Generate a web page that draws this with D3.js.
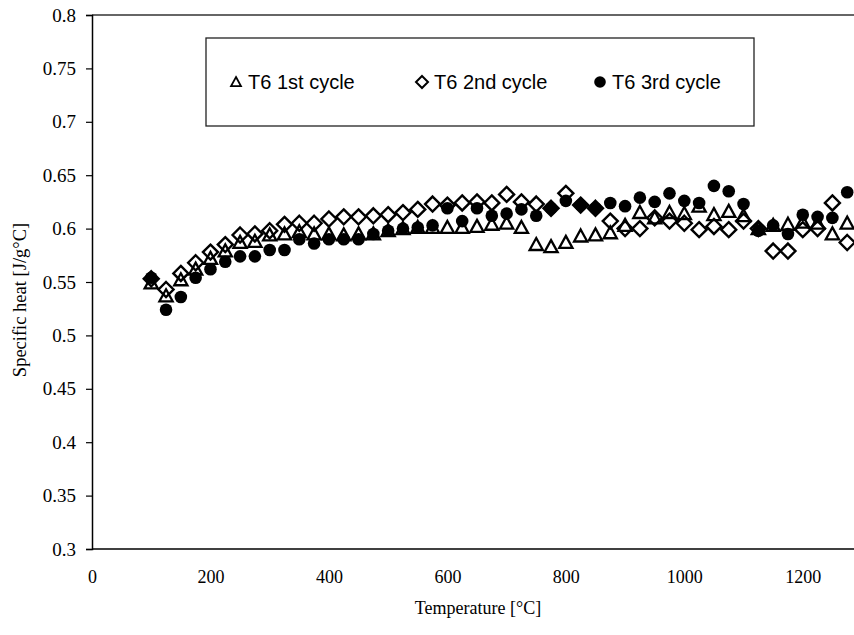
<!DOCTYPE html>
<html>
<head>
<meta charset="utf-8">
<script src="https://cdn.jsdelivr.net/npm/d3@7"></script>
<style>
  body { margin: 0; background: #fff; }
  svg { display: block; }
  .serif { font-family: "Liberation Serif", "Times New Roman", serif; }
  .sans { font-family: "Liberation Sans", Arial, sans-serif; }
</style>
</head>
<body>
<svg id="chart" width="854" height="635"></svg>
<script>
// ---- data ----
const temps = [100,125,150,175,200,225,250,275,300,325,350,375,400,425,450,475,500,525,550,575,600,625,650,675,700,725,750,775,800,825,850,875,900,925,950,975,1000,1025,1050,1075,1100,1125,1150,1175,1200,1225,1250,1275];
const cycle1 = [0.549,0.537,0.552,0.562,0.572,0.579,0.587,0.588,0.594,0.595,0.597,0.595,0.595,0.594,0.595,0.595,0.598,0.600,0.601,0.601,0.601,0.601,0.602,0.604,0.605,0.601,0.585,0.583,0.587,0.593,0.594,0.596,0.603,0.615,0.610,0.615,0.614,0.621,0.613,0.616,0.612,0.600,0.603,0.604,0.606,0.605,0.595,0.605];
const cycle2 = [0.553,0.543,0.558,0.568,0.578,0.585,0.594,0.595,0.598,0.604,0.605,0.605,0.609,0.611,0.611,0.612,0.613,0.615,0.618,0.623,0.622,0.624,0.625,0.624,0.632,0.625,0.623,0.619,0.633,0.622,0.619,0.607,0.600,0.600,0.610,0.607,0.605,0.599,0.602,0.599,0.607,0.600,0.579,0.579,0.599,0.600,0.624,0.587];
const cycle3 = [0.554,0.524,0.536,0.554,0.562,0.569,0.574,0.574,0.580,0.580,0.590,0.586,0.590,0.590,0.590,0.595,0.598,0.600,0.601,0.603,0.619,0.607,0.619,0.612,0.614,0.618,0.612,0.619,0.626,0.622,0.619,0.624,0.621,0.629,0.625,0.633,0.626,0.624,0.640,0.635,0.623,0.598,0.603,0.595,0.613,0.611,0.610,0.634];
const seriesNames = ["T6 1st cycle","T6 2nd cycle","T6 3rd cycle"];
const xTicks = [0,200,400,600,800,1000,1200];
const yTicks = [0.3,0.35,0.4,0.45,0.5,0.55,0.6,0.65,0.7,0.75,0.8];
const xTitle = "Temperature [°C]";
const yTitle = "Specific heat [J/g°C]";

// ---- layout ----
const svg = d3.select("#chart");
const x = d3.scaleLinear().domain([0, 1300]).range([92, 862]);
const y = d3.scaleLinear().domain([0.3, 0.8]).range([549, 15]);

// top frame line
svg.append("line").attr("x1", x(0)).attr("x2", 854).attr("y1", y(0.8)).attr("y2", y(0.8))
  .attr("stroke", "#333").attr("stroke-width", 1.3);

// y axis
const gy = svg.append("g").attr("transform", `translate(${x(0)},0)`)
  .call(d3.axisLeft(y).tickValues(yTicks).tickSize(6).tickPadding(10)
    .tickFormat(d => String(+d.toFixed(2))));
gy.attr("font-family", null).attr("font-size", null);
gy.select(".domain").attr("stroke", "#000").attr("stroke-width", 1.5);
gy.selectAll(".tick line").attr("stroke", "#000").attr("stroke-width", 1.2);
gy.selectAll(".tick text").attr("class", "serif").attr("font-size", 19).attr("fill", "#000");

// x axis
const gx = svg.append("g").attr("transform", `translate(0,${y(0.3)})`)
  .call(d3.axisBottom(x).tickValues(xTicks).tickSize(0).tickPadding(21).tickFormat(d => String(d)));
gx.attr("font-family", null).attr("font-size", null);
gx.select(".domain").attr("stroke", "#000").attr("stroke-width", 1.5).attr("d", `M${x(0)},0H854`);
gx.selectAll(".tick text").attr("class", "serif").attr("font-size", 18).attr("fill", "#000");

// titles
svg.append("text").attr("class", "serif").attr("x", (x(0) + 854) / 2 + 5).attr("y", 614).attr("text-anchor", "middle")
  .attr("font-size", 18).attr("fill", "#000").text(xTitle);
svg.append("text").attr("class", "serif").attr("transform", `translate(26,${(y(0.3) + y(0.8)) / 2 + 18}) rotate(-90)`)
  .attr("text-anchor", "middle").attr("font-size", 18.5).attr("fill", "#000").text(yTitle);

// markers
const triPath = s => `M0,${-s * 0.55}L${s * 0.55},${s * 0.45}L${-s * 0.55},${s * 0.45}Z`;
const diaPath = s => `M0,${-s / 2}L${s / 2},0L0,${s / 2}L${-s / 2},0Z`;

const pts = (vals) => temps.map((t, i) => ({ t, v: vals[i] }));

svg.append("g").selectAll("path").data(pts(cycle1)).join("path")
  .attr("transform", d => `translate(${x(d.t)},${y(d.v)})`)
  .attr("d", triPath(12)).attr("fill", "none").attr("stroke", "#000").attr("stroke-width", 2.3);

svg.append("g").selectAll("path").data(pts(cycle2)).join("path")
  .attr("transform", d => `translate(${x(d.t)},${y(d.v)})`)
  .attr("d", diaPath(15)).attr("fill", "none").attr("stroke", "#000").attr("stroke-width", 2.4);

svg.append("g").selectAll("circle").data(pts(cycle3)).join("circle")
  .attr("cx", d => x(d.t)).attr("cy", d => y(d.v)).attr("r", 6.3).attr("fill", "#000");

// legend
const lg = svg.append("g");
lg.append("rect").attr("x", 206).attr("y", 38).attr("width", 548).attr("height", 88)
  .attr("fill", "#fff").attr("stroke", "#222").attr("stroke-width", 1.3);
const legendX = [236, 422, 600];
seriesNames.forEach((name, i) => {
  const g = lg.append("g").attr("transform", `translate(${legendX[i]},82)`);
  if (i === 0) g.append("path").attr("d", triPath(9)).attr("fill", "none").attr("stroke", "#000").attr("stroke-width", 1.8);
  if (i === 1) g.append("path").attr("d", diaPath(12)).attr("fill", "none").attr("stroke", "#000").attr("stroke-width", 2);
  if (i === 2) g.append("circle").attr("r", 5.8).attr("fill", "#000");
  g.append("text").attr("class", "sans").attr("x", 12).attr("y", 7).attr("font-size", 20).attr("fill", "#000").text(name);
});
</script>
</body>
</html>
